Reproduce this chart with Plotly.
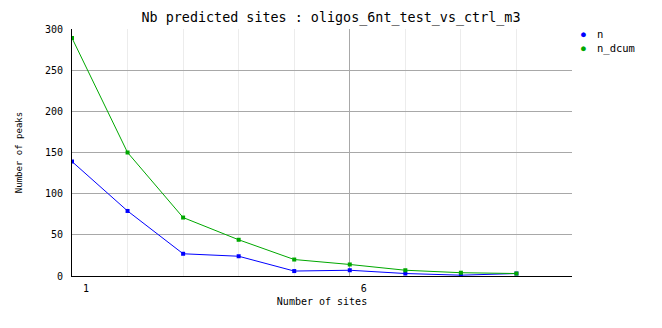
import plotly.graph_objects as go

sites = [1, 2, 3, 4, 5, 6, 7, 8, 9]
n_values = [139, 79, 27, 24, 6, 7, 3, 1, 3]
n_dcum_values = [289, 150, 71, 44, 20, 14, 7, 4, 3]
x_ticks = [1, 6]
y_ticks = [0, 50, 100, 150, 200, 250, 300]

title_text = "Nb predicted sites : oligos_6nt_test_vs_ctrl_m3"
mono = "DejaVu Sans Mono, Liberation Mono, monospace"
blue = "#0000ff"
green = "#00a800"

fig = go.Figure()
fig.add_trace(go.Scatter(x=sites, y=n_values, mode="lines+markers", name="n",
                         line=dict(color=blue, width=1),
                         marker=dict(color=blue, symbol="square", size=4),
                         showlegend=False))
fig.add_trace(go.Scatter(x=sites, y=n_dcum_values, mode="lines+markers", name="n_dcum",
                         line=dict(color=green, width=1),
                         marker=dict(color=green, symbol="square", size=4),
                         showlegend=False))

# legend drawn as annotations
legend_items = [("n", blue), ("n_dcum", green)]
annotations = []
for i, (name, col) in enumerate(legend_items):
    ypix = 34 + i * 14
    annotations.append(dict(xref="paper", yref="paper", x=(583 - 72) / 500,
                            y=(276 - ypix) / 247.3, text="●", showarrow=False,
                            font=dict(color=col, size=8, family=mono),
                            xanchor="center", yanchor="middle"))
    annotations.append(dict(xref="paper", yref="paper", x=(595 - 72) / 500,
                            y=(276 - ypix) / 247.3, text=name, showarrow=False,
                            font=dict(color="black", size=10.5, family=mono),
                            xanchor="left", yanchor="middle"))

fig.update_layout(
    width=662, height=328,
    margin=dict(l=72, r=90, t=29, b=52),
    paper_bgcolor="white", plot_bgcolor="white",
    title=dict(text=title_text, x=0.5, xref="container", xanchor="center",
               y=1 - 17 / 328, yref="container", yanchor="middle",
               font=dict(family=mono, size=13.4, color="black")),
    annotations=annotations,
    showlegend=False,
)
fig.update_xaxes(range=[1, 10], tickmode="array", tickvals=x_ticks,
                 ticktext=[str(v) for v in x_ticks],
                 showgrid=True, gridcolor="#a8a8a8", gridwidth=1,
                 minor=dict(dtick=1, tick0=1, showgrid=True, gridcolor="#ececec", gridwidth=1),
                 showline=True, linecolor="black", linewidth=1, zeroline=False,
                 ticks="", ticklabelshift=14, ticklabelstandoff=3,
                 tickfont=dict(family=mono, size=10, color="black"),
                 title=dict(text="Number of sites", standoff=4,
                            font=dict(family=mono, size=10, color="black")))
fig.update_yaxes(range=[0, 300], tickmode="array", tickvals=y_ticks,
                 showgrid=True, gridcolor="#a8a8a8", gridwidth=1,
                 showline=True, linecolor="black", linewidth=1, zeroline=False,
                 ticks="", ticklabelstandoff=6,
                 tickfont=dict(family=mono, size=10, color="black"),
                 title=dict(text="Number of peaks", standoff=20,
                            font=dict(family=mono, size=9, color="black")))

fig.write_html("out.html")
